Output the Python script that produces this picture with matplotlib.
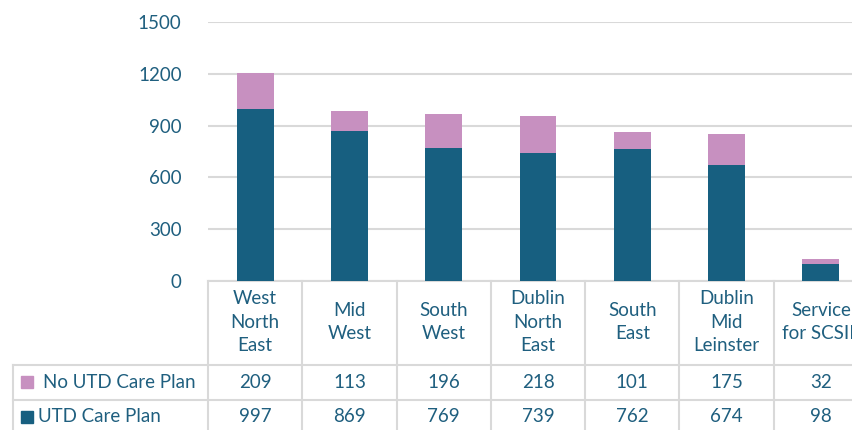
import matplotlib.pyplot as plt
import matplotlib.transforms as mtransforms
import numpy as np

regions = ['West\nNorth\nEast', 'Mid\nWest', 'South\nWest', 'Dublin\nNorth\nEast',
           'South\nEast', 'Dublin\nMid\nLeinster', 'Service\nfor SCSIP']
no_utd = [209, 113, 196, 218, 101, 175, 32]
utd = [997, 869, 769, 739, 762, 674, 98]
series_names = ['No UTD Care Plan', 'UTD Care Plan']
yticks = [0, 300, 600, 900, 1200, 1500]

c_utd = '#175f80'
c_no = '#c790c0'
c_text = '#1f5f7f'
c_grid = '#d9d9d9'
fs = 13.5

plt.rcParams['font.family'] = ['Lato', 'DejaVu Sans']

W, H = 853, 430
fig = plt.figure(figsize=(W / 100, H / 100), dpi=100)
# plot area in pixels (right edge runs past the figure, as in the clipped original)
x0, x1, ytop, ybot = 208, 868, 22, 281
ax = fig.add_axes([x0 / W, 1 - ybot / H, (x1 - x0) / W, (ybot - ytop) / H])

x = np.arange(len(regions))
ax.bar(x, utd, width=0.39, color=c_utd, zorder=3)
ax.bar(x, no_utd, bottom=utd, width=0.39, color=c_no, zorder=3)

ax.set_xlim(-0.5, len(regions) - 0.5)
ax.set_ylim(0, 1500)
ax.set_yticks(yticks)
ax.set_yticklabels([str(v) for v in yticks], fontsize=fs, color=c_text)
ax.tick_params(axis='y', length=0, pad=19)
ax.set_xticks([])
for s in ['top', 'right', 'left']:
    ax.spines[s].set_visible(False)
ax.spines['bottom'].set_color(c_grid)
ax.spines['bottom'].set_linewidth(1.5)
ax.yaxis.grid(True, color=c_grid, linewidth=1.5, zorder=0)
ax.set_axisbelow(True)

# data table below the plot: x in data units, y in figure pixels (from top)
pix = mtransforms.Affine2D().scale(1.0 / W, -1.0 / H).translate(0, 1)
tr = mtransforms.blended_transform_factory(ax.transData, pix + fig.transFigure)
figpix = pix + fig.transFigure

row1, row2, tbot = 365, 400, 440
for i in range(len(regions) + 1):
    ax.plot([i - 0.5, i - 0.5], [ybot, tbot], transform=tr, color=c_grid,
            linewidth=1.5, clip_on=False)
for yy in [row1, row2]:
    fig.add_artist(plt.Line2D([13 / W, 1], [1 - yy / H, 1 - yy / H], color=c_grid, linewidth=1.5))
fig.add_artist(plt.Line2D([13 / W, 13 / W], [1 - row1 / H, 0], color=c_grid, linewidth=1.5))

for i, name in enumerate(regions):
    ax.text(i, 322, name, transform=tr, ha='center', va='center', fontsize=fs,
            color=c_text, linespacing=1.49, clip_on=False)
    ax.text(i, 382, str(no_utd[i]), transform=tr, ha='center', va='center',
            fontsize=fs, color=c_text, clip_on=False)
    ax.text(i, 417, str(utd[i]), transform=tr, ha='center', va='center',
            fontsize=fs, color=c_text, clip_on=False)

# legend keys in the table
fig.add_artist(plt.Rectangle((21 / W, 1 - 388 / H), 12 / W, 12 / H, color=c_no, transform=fig.transFigure))
fig.add_artist(plt.Rectangle((21 / W, 1 - 423 / H), 12 / W, 12 / H, color=c_utd, transform=fig.transFigure))
fig.text(43, 382, series_names[0], transform=figpix, ha='left', va='center', fontsize=fs, color=c_text)
fig.text(38, 417, series_names[1], transform=figpix, ha='left', va='center', fontsize=fs, color=c_text)

fig.savefig('out.png', dpi=100)
